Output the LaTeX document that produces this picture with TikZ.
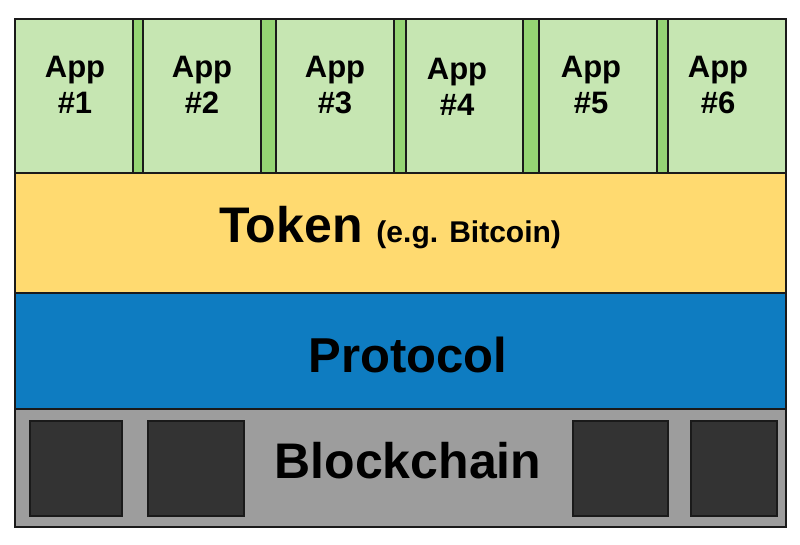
\documentclass[tikz,border=0pt]{standalone}
\usepackage{fontspec}
\setmainfont{Liberation Sans}
\definecolor{appgreen}{HTML}{C6E6B2}
\definecolor{stripgreen}{HTML}{95D474}
\definecolor{tokenyellow}{HTML}{FFDA70}
\definecolor{protoblue}{HTML}{0E7CC1}
\definecolor{chaingrey}{HTML}{9D9D9D}
\definecolor{blockdark}{HTML}{333333}
\definecolor{edge}{HTML}{1A1A1A}
\begin{document}
\begin{tikzpicture}[x=1pt,y=-1pt,
  boxbase/.style={draw=edge, line width=1.5pt, inner sep=0pt, outer sep=0pt, anchor=north west},
  appbox/.style={boxbase, fill=appgreen},
  stripbox/.style={boxbase, fill=stripgreen},
  layerbox/.style={boxbase},
  blockbox/.style={boxbase, fill=blockdark},
  applabel/.style={font=\bfseries\fontsize{31}{36}\selectfont, align=center, text=black, anchor=base},
  biglabel/.style={font=\bfseries\fontsize{50}{52}\selectfont, text=black, anchor=base}]
\useasboundingbox[fill=white] (0,0) rectangle (800,544);
% layers
\node[layerbox, fill=tokenyellow, minimum width=771pt, minimum height=120pt] (token) at (15,173) {};
\node[layerbox, fill=protoblue, minimum width=771pt, minimum height=116pt] (protocol) at (15,293) {};
\node[layerbox, fill=chaingrey, minimum width=771pt, minimum height=118pt] (chain) at (15,409) {};
% apps
\node[appbox, minimum width=118pt, minimum height=154pt] (app1) at (15,19) {};
\node[stripbox, minimum width=10pt, minimum height=154pt] (s1) at (133,19) {};
\node[appbox, minimum width=118pt, minimum height=154pt] (app2) at (143,19) {};
\node[stripbox, minimum width=15pt, minimum height=154pt] (s2) at (261,19) {};
\node[appbox, minimum width=118pt, minimum height=154pt] (app3) at (276,19) {};
\node[stripbox, minimum width=12pt, minimum height=154pt] (s3) at (394,19) {};
\node[appbox, minimum width=117pt, minimum height=154pt] (app4) at (406,19) {};
\node[stripbox, minimum width=16pt, minimum height=154pt] (s4) at (523,19) {};
\node[appbox, minimum width=118pt, minimum height=154pt] (app5) at (539,19) {};
\node[stripbox, minimum width=11pt, minimum height=154pt] (s5) at (657,19) {};
\node[appbox, minimum width=118pt, minimum height=154pt] (app6) at (668,19) {};
% app labels
\node[applabel] (l1) at (75,77) {App};
\node[applabel] (n1) at (75,113) {\#1};
\node[applabel] (l2) at (202,77) {App};
\node[applabel] (n2) at (202,113) {\#2};
\node[applabel] (l3) at (335,77) {App};
\node[applabel] (n3) at (335,113) {\#3};
\node[applabel] (l4) at (457,79) {App};
\node[applabel] (n4) at (457,115) {\#4};
\node[applabel] (l5) at (591,77) {App};
\node[applabel] (n5) at (591,113) {\#5};
\node[applabel] (l6) at (718,77) {App};
\node[applabel] (n6) at (718,113) {\#6};
% blocks
\node[blockbox, minimum width=92pt, minimum height=95pt] (b1) at (30,421) {};
\node[blockbox, minimum width=96pt, minimum height=95pt] (b2) at (148,421) {};
\node[blockbox, minimum width=95pt, minimum height=95pt] (b3) at (573,421) {};
\node[blockbox, minimum width=86pt, minimum height=95pt] (b4) at (691,421) {};
% texts
\node[biglabel] (tokentext) at (390,242) {Token {\fontsize{30}{32}\selectfont (e.g. Bitcoin)}};
\node[biglabel, font=\bfseries\fontsize{49}{52}\selectfont] (prototext) at (408,372) {Protocol};
\node[biglabel] (chaintext) at (408,478) {Blockchain};
\end{tikzpicture}
\end{document}
